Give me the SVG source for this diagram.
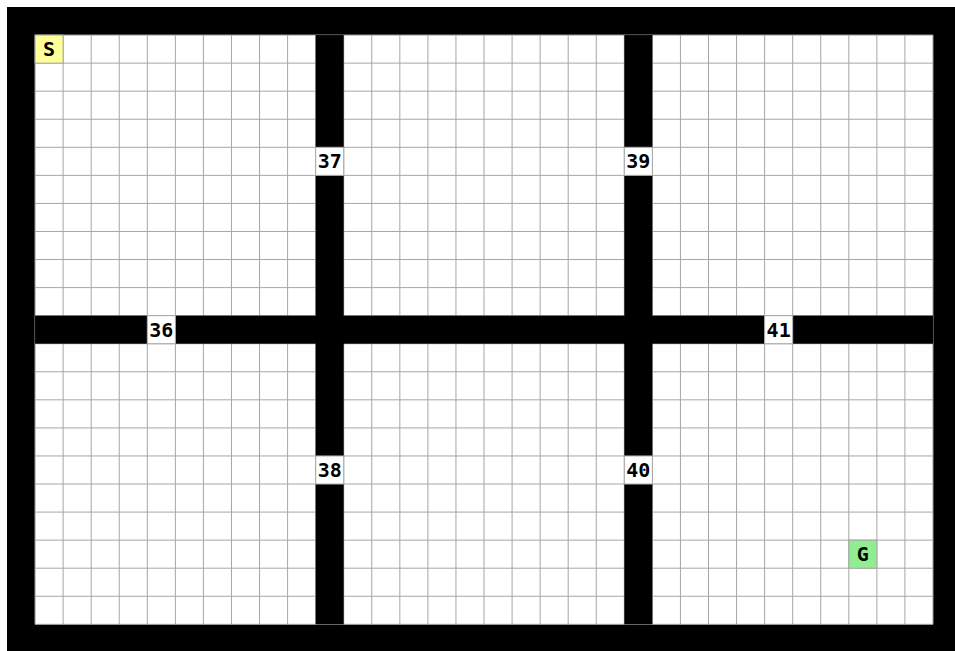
<svg xmlns="http://www.w3.org/2000/svg" width="955" height="651" viewBox="0 0 955 651">
<style>
.wall{fill:#000}
.cell{stroke:#a6a6a6;stroke-width:1}
.door{fill:#fff}
.lbl{font-family:"DejaVu Sans Mono","Liberation Mono",monospace;font-weight:bold;font-size:20px;fill:#000;text-anchor:middle;dominant-baseline:central}
</style>
<rect width="955" height="651" fill="#fff"/>
<rect class="wall" x="7" y="7" width="948" height="644"/>
<rect x="35.06" y="35.06" width="897.92" height="589.26" fill="#fff"/>
<path fill="none" stroke="#a6a6a6" stroke-width="1" d="M35.06 35.06V624.32M63.12 35.06V624.32M91.18 35.06V624.32M119.24 35.06V624.32M147.3 35.06V624.32M175.36 35.06V624.32M203.42 35.06V624.32M231.48 35.06V624.32M259.54 35.06V624.32M287.6 35.06V624.32M315.66 35.06V624.32M343.72 35.06V624.32M371.78 35.06V624.32M399.84 35.06V624.32M427.9 35.06V624.32M455.96 35.06V624.32M484.02 35.06V624.32M512.08 35.06V624.32M540.14 35.06V624.32M568.2 35.06V624.32M596.26 35.06V624.32M624.32 35.06V624.32M652.38 35.06V624.32M680.44 35.06V624.32M708.5 35.06V624.32M736.56 35.06V624.32M764.62 35.06V624.32M792.68 35.06V624.32M820.74 35.06V624.32M848.8 35.06V624.32M876.86 35.06V624.32M904.92 35.06V624.32M932.98 35.06V624.32M35.06 35.06H932.98M35.06 63.12H932.98M35.06 91.18H932.98M35.06 119.24H932.98M35.06 147.3H932.98M35.06 175.36H932.98M35.06 203.42H932.98M35.06 231.48H932.98M35.06 259.54H932.98M35.06 287.6H932.98M35.06 315.66H932.98M35.06 343.72H932.98M35.06 371.78H932.98M35.06 399.84H932.98M35.06 427.9H932.98M35.06 455.96H932.98M35.06 484.02H932.98M35.06 512.08H932.98M35.06 540.14H932.98M35.06 568.2H932.98M35.06 596.26H932.98M35.06 624.32H932.98"/>
<g id="walls">
<rect class="wall" x="315.66" y="35.06" width="28.06" height="112.24"/>
<rect class="wall" x="315.66" y="175.36" width="28.06" height="280.6"/>
<rect class="wall" x="315.66" y="484.02" width="28.06" height="140.3"/>
<rect class="wall" x="624.32" y="35.06" width="28.06" height="112.24"/>
<rect class="wall" x="624.32" y="175.36" width="28.06" height="280.6"/>
<rect class="wall" x="624.32" y="484.02" width="28.06" height="140.3"/>
<rect class="wall" x="35.06" y="315.66" width="112.24" height="28.06"/>
<rect class="wall" x="175.36" y="315.66" width="589.26" height="28.06"/>
<rect class="wall" x="792.68" y="315.66" width="140.3" height="28.06"/>
</g>
<g id="connectors"></g>
<g id="start"><rect class="cell" x="35.06" y="35.06" width="28.06" height="28.06" fill="#ffff99"/><text class="lbl" x="49.09" y="49.09">S</text></g>
<g id="goal"><rect class="cell" x="848.8" y="540.14" width="28.06" height="28.06" fill="#90ee90"/><text class="lbl" x="862.83" y="554.17">G</text></g>
<g id="door36"><rect class="cell door" x="147.3" y="315.66" width="28.06" height="28.06"/><text class="lbl" x="161.33" y="329.69">36</text></g>
<g id="door37"><rect class="cell door" x="315.66" y="147.3" width="28.06" height="28.06"/><text class="lbl" x="329.69" y="161.33">37</text></g>
<g id="door38"><rect class="cell door" x="315.66" y="455.96" width="28.06" height="28.06"/><text class="lbl" x="329.69" y="469.99">38</text></g>
<g id="door39"><rect class="cell door" x="624.32" y="147.3" width="28.06" height="28.06"/><text class="lbl" x="638.35" y="161.33">39</text></g>
<g id="door40"><rect class="cell door" x="624.32" y="455.96" width="28.06" height="28.06"/><text class="lbl" x="638.35" y="469.99">40</text></g>
<g id="door41"><rect class="cell door" x="764.62" y="315.66" width="28.06" height="28.06"/><text class="lbl" x="778.65" y="329.69">41</text></g>
</svg>
